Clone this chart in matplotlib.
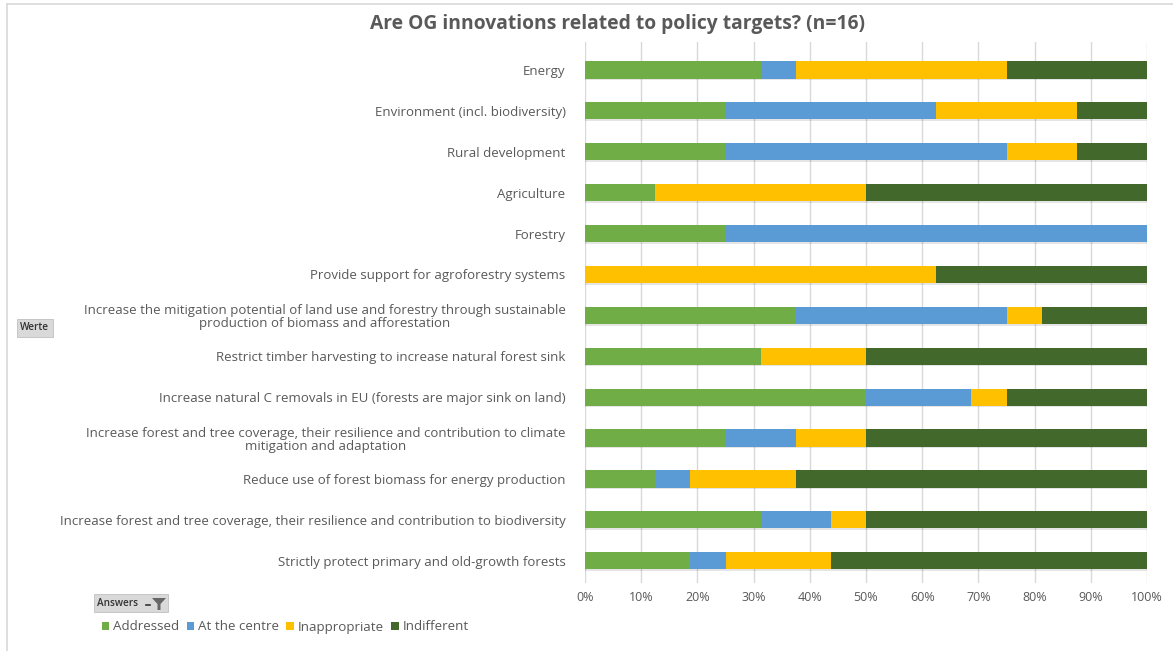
import numpy as np
import matplotlib.pyplot as plt
from matplotlib.patches import Polygon
from matplotlib.lines import Line2D
from matplotlib.ticker import PercentFormatter

plt.rcParams['font.family'] = ['Open Sans', 'DejaVu Sans']

# answers out of n=16, listed top to bottom as in the chart
categories = [
    "Energy",
    "Environment (incl. biodiversity)",
    "Rural development",
    "Agriculture",
    "Forestry",
    "Provide support for agroforestry systems",
    "Increase the mitigation potential of land use and forestry through sustainable\nproduction of biomass and afforestation",
    "Restrict timber harvesting to increase natural forest sink",
    "Increase natural C removals in EU (forests are major sink on land)",
    "Increase forest and tree coverage, their resilience and contribution to climate\nmitigation and adaptation",
    "Reduce use of forest biomass for energy production",
    "Increase forest and tree coverage, their resilience and contribution to biodiversity",
    "Strictly protect primary and old-growth forests",
]
addressed     = [5, 4, 4, 2, 4, 0, 6, 5, 8, 4, 2, 5, 3]
at_the_centre = [1, 6, 8, 0, 12, 0, 6, 0, 3, 2, 1, 2, 1]
inappropriate = [6, 4, 2, 6, 0, 10, 1, 3, 1, 2, 3, 1, 3]
indifferent   = [4, 2, 2, 8, 0, 6, 3, 8, 4, 8, 10, 8, 9]
n = 16

series = [
    ("Addressed", addressed, "#70AD47"),
    ("At the centre", at_the_centre, "#5B9BD5"),
    ("Inappropriate", inappropriate, "#FFC000"),
    ("Indifferent", indifferent, "#43682B"),
]

W, H = 1173, 651
fig = plt.figure(figsize=(W / 100, H / 100), dpi=100)
ax = fig.add_axes([585 / W, 1 - 583 / H, (1147 - 585) / W, (583 - 42) / H])

y = np.arange(len(categories))
left = np.zeros(len(categories))
for name, vals, col in series:
    share = np.array(vals) / n
    # soft shadow under the bars
    ax.barh(y + 0.04, share, left=left, height=0.42, color="#000000", alpha=0.10,
            zorder=2, linewidth=0)
    ax.barh(y, share, left=left, height=0.42, color=col, label=name, zorder=3,
            linewidth=0)
    left += share

ax.set_xlim(0, 1)
ax.set_ylim(12.545, -0.685)
ax.set_yticks(y)
ax.set_yticklabels(categories, fontsize=9.5, color="#595959", linespacing=1.05,
                   multialignment="center")
ax.tick_params(axis="y", length=0, pad=14)
ax.set_xticks(np.linspace(0, 1, 11))
ax.xaxis.set_major_formatter(PercentFormatter(1.0, decimals=0))
ax.tick_params(axis="x", length=0, labelsize=9, labelcolor="#595959", pad=6)
ax.grid(axis="x", color="#D9D9D9", linewidth=1, zorder=0)
for s in ax.spines.values():
    s.set_visible(False)

fig.text(618 / W, 1 - 24 / H, "Are OG innovations related to policy targets? (n=16)",
         ha="center", va="center", fontsize=13.9, fontweight="bold", color="#595959")

# pivot field buttons
fig.text(20 / W, 1 - 328 / H, "Werte", ha="left", va="center", fontsize=7.2,
         color="#333333", fontweight="semibold",
         bbox=dict(boxstyle="square,pad=0.35", fc="#D9D9D9", ec="#BFBFBF", lw=0.6))
fig.text(97 / W, 1 - 603 / H, "Answers          ", ha="left", va="center", fontsize=7.2,
         color="#333333", fontweight="semibold",
         bbox=dict(boxstyle="square,pad=0.35", fc="#D9D9D9", ec="#BFBFBF", lw=0.6))
funnel = Polygon([[152 / W, 1 - 598 / H], [166 / W, 1 - 598 / H], [160.5 / W, 1 - 604 / H],
                  [160.5 / W, 1 - 610 / H], [157.5 / W, 1 - 610 / H], [157.5 / W, 1 - 604 / H]],
                 closed=True, transform=fig.transFigure, fc="#666666", ec="none", zorder=6)
fig.patches.append(funnel)
fig.add_artist(Line2D([146 / W, 150 / W], [1 - 605 / H, 1 - 605 / H],
                      transform=fig.transFigure, color="#333333", lw=1.2, zorder=6))

handles, labels = ax.get_legend_handles_labels()
fig.legend(handles, labels, loc="center left", bbox_to_anchor=(90 / W, 1 - 627 / H),
           ncol=4, frameon=False, fontsize=9.6, handlelength=0.55, handleheight=0.55,
           handletextpad=0.3, columnspacing=0.55, labelcolor="#595959")

# chart frame
fig.add_artist(Line2D([7 / W, 7 / W], [0, 1 - 4 / H], transform=fig.transFigure,
                      color="#D9D9D9", lw=1.2))
fig.add_artist(Line2D([7 / W, 1], [1 - 4 / H, 1 - 4 / H], transform=fig.transFigure,
                      color="#D9D9D9", lw=1.2))

fig.savefig("out.png", dpi=100)
